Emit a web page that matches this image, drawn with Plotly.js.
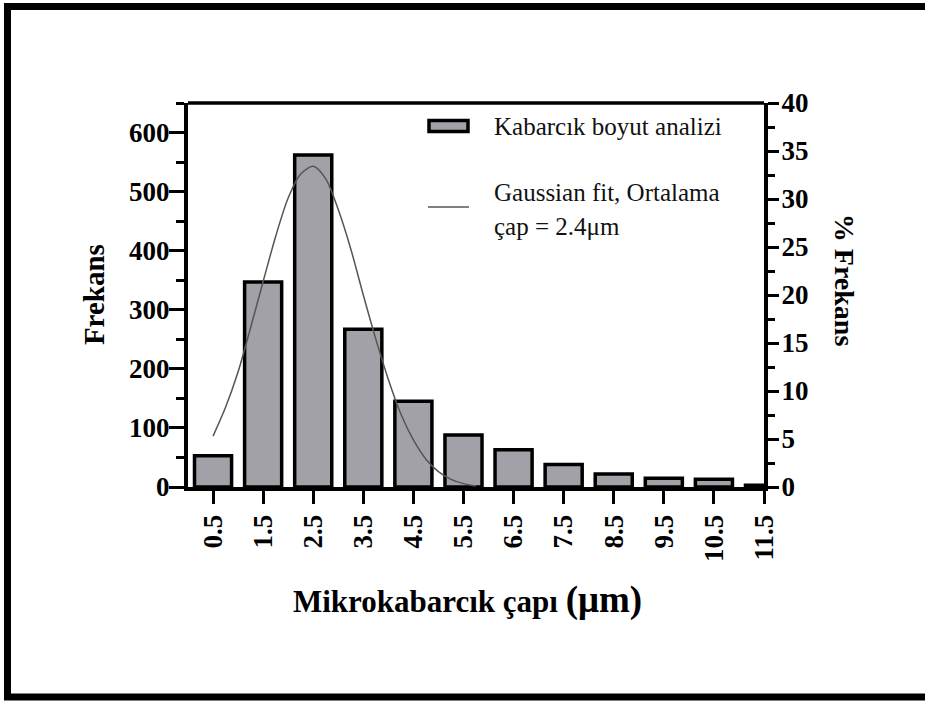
<!DOCTYPE html>
<html>
<head>
<meta charset="utf-8">
<script src="https://cdn.plot.ly/plotly-3.0.1.min.js"></script>
<style>html,body{margin:0;padding:0;background:#fff;}#chart{width:925px;height:701px;}</style>
</head>
<body>
<div id="chart"></div>
<script>
// Bin centres (µm) and counts
const categories = [0.5, 1.5, 2.5, 3.5, 4.5, 5.5, 6.5, 7.5, 8.5, 9.5, 10.5, 11.5];
const tickLabels = ["0.5", "1.5", "2.5", "3.5", "4.5", "5.5", "6.5", "7.5", "8.5", "9.5", "10.5", "11.5"];
const frekans = [53, 347, 562, 267, 145, 88, 63, 38, 22, 15, 13, 3];
// Gaussian fit curve points
const fitX = [0.5, 0.75, 1.0, 1.25, 1.5, 1.75, 2.0, 2.25, 2.5, 2.75, 3.0, 3.25, 3.5, 3.75, 4.0, 4.25, 4.5, 4.75, 5.0, 5.25, 5.5, 5.75];
const fitPct = [5.3, 8.3, 12.0, 16.6, 21.4, 26.1, 30.1, 32.6, 33.4, 32.1, 28.9, 24.8, 20.0, 15.4, 11.2, 7.6, 4.9, 2.9, 1.6, 0.8, 0.35, 0.1];
const leftTicks = [0, 100, 200, 300, 400, 500, 600];
const rightTicks = [0, 5, 10, 15, 20, 25, 30, 35, 40];

const serif = "Liberation Serif, Times New Roman, serif";
const barFill = "#a2a1a7";

const traces = [
  {
    type: "bar", x: categories, y: frekans, width: 0.74,
    marker: {color: barFill, line: {color: "#000", width: 3.5}},
    name: "Kabarcık boyut analizi", showlegend: false, xaxis: "x", yaxis: "y"
  },
  {
    type: "scatter", mode: "lines", x: fitX, y: fitPct,
    line: {color: "#555", width: 1.5, shape: "spline", smoothing: 0.8},
    name: "Gaussian fit, Ortalama çap = 2.4μm", showlegend: false, xaxis: "x", yaxis: "y2"
  }
];

const tickFont = {family: serif, size: 27, color: "#000", weight: "bold"};

const layout = {
  width: 925, height: 701,
  margin: {l: 188, r: 161, t: 103, b: 214},
  paper_bgcolor: "#fff", plot_bgcolor: "#fff",
  showlegend: false,
  xaxis: {
    range: [0, 11.5], tickvals: categories, ticktext: tickLabels, tickangle: -90,
    ticks: "outside", ticklen: 13, tickwidth: 3, tickcolor: "#000",
    showline: true, linewidth: 4, linecolor: "#000", showgrid: false, zeroline: false,
    tickfont: tickFont, ticklabelstandoff: 0
  },
  yaxis: {
    range: [0, 650], tickvals: leftTicks,
    ticks: "outside", ticklen: 15, tickwidth: 3, tickcolor: "#000",
    minor: {dtick: 50, tick0: 0, ticks: "outside", ticklen: 8, tickwidth: 3, tickcolor: "#000", showgrid: false},
    showline: true, linewidth: 4, linecolor: "#000", showgrid: false, zeroline: false,
    tickfont: tickFont, ticklabelstandoff: -6
  },
  yaxis2: {
    range: [0, 40], tickvals: rightTicks, overlaying: "y", side: "right", anchor: "x",
    ticks: "outside", ticklen: 11, tickwidth: 3, tickcolor: "#000",
    minor: {dtick: 2.5, tick0: 0, ticks: "outside", ticklen: 7, tickwidth: 3, tickcolor: "#000", showgrid: false},
    showline: true, linewidth: 4, linecolor: "#000", showgrid: false, zeroline: false,
    tickfont: tickFont, ticklabelstandoff: -3
  },
  shapes: [
    // top frame line of the plot
    {type: "line", xref: "paper", yref: "paper", x0: 0, x1: 1, y0: 1, y1: 1, line: {color: "#000", width: 3.5}},
    // outer picture border (right side runs off the picture)
    {type: "rect", xref: "paper", yref: "paper", x0: -0.3134, x1: 1.32, y0: -0.5469, y1: 1.2513, line: {color: "#000", width: 7}},
    // legend symbols
    {type: "rect", xref: "paper", yref: "paper", x0: 0.4184, x1: 0.4861, y0: 0.9258, y1: 0.9544,
     fillcolor: barFill, line: {color: "#000", width: 3.5}},
    {type: "line", xref: "paper", yref: "paper", x0: 0.4167, x1: 0.4878, y0: 0.7292, y1: 0.7292,
     line: {color: "#555", width: 1.5}}
  ],
  annotations: [
    {xref: "paper", yref: "paper", x: 0.5278, y: 0.9401, xanchor: "left", yanchor: "middle", showarrow: false,
     text: "Kabarcık boyut analizi", font: {family: serif, size: 25, color: "#111"}},
    {xref: "paper", yref: "paper", x: 0.5278, y: 0.7682, xanchor: "left", yanchor: "middle", showarrow: false,
     text: "Gaussian fit, Ortalama", font: {family: serif, size: 25, color: "#111"}},
    {xref: "paper", yref: "paper", x: 0.5278, y: 0.6771, xanchor: "left", yanchor: "middle", showarrow: false,
     text: "çap = 2.4μm", font: {family: serif, size: 25, color: "#111"}},
    {xref: "paper", yref: "paper", x: -0.163, y: 0.5, xanchor: "center", yanchor: "middle", showarrow: false,
     textangle: -90, text: "<b>Frekans</b>", font: {family: serif, size: 29, color: "#000"}},
    {xref: "paper", yref: "paper", x: 1.141, y: 0.539, xanchor: "center", yanchor: "middle", showarrow: false,
     textangle: 90, text: "<b>% Frekans</b>", font: {family: serif, size: 28, color: "#000"}},
    {xref: "paper", yref: "paper", x: 0.486, y: -0.294, xanchor: "center", yanchor: "middle", showarrow: false,
     text: "<b>Mikrokabarcık çapı <span style=\"font-size:37px\">(μm)</span></b>", font: {family: serif, size: 31, color: "#000"}}
  ]
};

Plotly.newPlot("chart", traces, layout, {displayModeBar: false, staticPlot: true});
</script>
</body>
</html>
